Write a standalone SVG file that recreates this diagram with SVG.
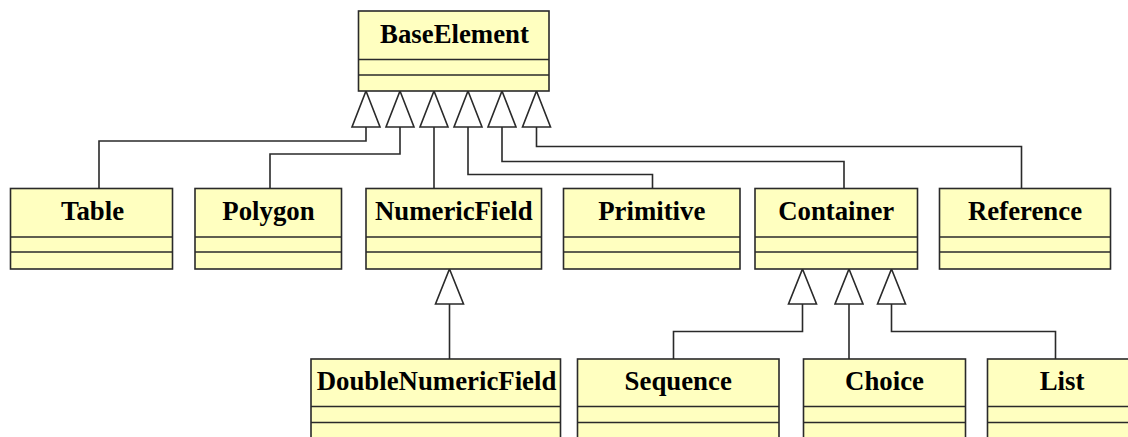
<svg xmlns="http://www.w3.org/2000/svg" width="1128" height="437" viewBox="0 0 1128 437">
<style>
.box{fill:#FFFFC0;stroke:#2a2a2a;stroke-width:1.6}
.div{stroke:#2a2a2a;stroke-width:1.6}
.t{font-family:"Liberation Serif","Times New Roman",serif;font-weight:bold;font-size:26.8px;fill:#000;text-anchor:middle}
.c{fill:none;stroke:#2a2a2a;stroke-width:1.6}
.h{fill:#fff;stroke:#2a2a2a;stroke-width:1.6;stroke-linejoin:miter}
</style>
<rect width="1128" height="437" fill="#fff"/>
<g id="connectors">
<polyline class="c" points="366,127 366,141 99,141 99,188.5"/>
<polyline class="c" points="400,127 400,154 270,154 270,188.5"/>
<polyline class="c" points="434,127 434,188.5"/>
<polyline class="c" points="468,127 468,174.5 652.5,174.5 652.5,188.5"/>
<polyline class="c" points="502,127 502,161.5 844,161.5 844,188.5"/>
<polyline class="c" points="536.5,127 536.5,146.5 1021.5,146.5 1021.5,188.5"/>
<polyline class="c" points="449.5,304 449.5,359"/>
<polyline class="c" points="802.5,304 802.5,331.5 673.5,331.5 673.5,359"/>
<polyline class="c" points="849,304 849,359"/>
<polyline class="c" points="891.5,304 891.5,331.5 1055.5,331.5 1055.5,359"/>
<polygon class="h" points="366,91 380,127 352,127"/>
<polygon class="h" points="400,91 414,127 386,127"/>
<polygon class="h" points="434,91 448,127 420,127"/>
<polygon class="h" points="468,91 482,127 454,127"/>
<polygon class="h" points="502,91 516,127 488,127"/>
<polygon class="h" points="536.5,91 550.5,127 522.5,127"/>
<polygon class="h" points="449.5,269 463.5,304 435.5,304"/>
<polygon class="h" points="802.5,269 816.5,304 788.5,304"/>
<polygon class="h" points="849,269 863,304 835,304"/>
<polygon class="h" points="891.5,269 905.5,304 877.5,304"/>
</g>
<g id="BaseElement">
<rect class="box" x="358.5" y="11" width="190.5" height="80"/>
<line class="div" x1="358.5" y1="59.5" x2="549" y2="59.5"/>
<line class="div" x1="358.5" y1="75" x2="549" y2="75"/>
<text class="t" x="454.5" y="43">BaseElement</text>
</g>
<g id="Table">
<rect class="box" x="10.5" y="188.5" width="162" height="80.5"/>
<line class="div" x1="10.5" y1="237" x2="172.5" y2="237"/>
<line class="div" x1="10.5" y1="252" x2="172.5" y2="252"/>
<text class="t" x="92.5" y="220">Table</text>
</g>
<g id="Polygon">
<rect class="box" x="195" y="188.5" width="146.5" height="80.5"/>
<line class="div" x1="195" y1="237" x2="341.5" y2="237"/>
<line class="div" x1="195" y1="252" x2="341.5" y2="252"/>
<text class="t" x="268.5" y="220">Polygon</text>
</g>
<g id="NumericField">
<rect class="box" x="366" y="188.5" width="175.5" height="80.5"/>
<line class="div" x1="366" y1="237" x2="541.5" y2="237"/>
<line class="div" x1="366" y1="252" x2="541.5" y2="252"/>
<text class="t" x="453.8" y="220">NumericField</text>
</g>
<g id="Primitive">
<rect class="box" x="563.5" y="188.5" width="176.5" height="80.5"/>
<line class="div" x1="563.5" y1="237" x2="740" y2="237"/>
<line class="div" x1="563.5" y1="252" x2="740" y2="252"/>
<text class="t" x="651.8" y="220">Primitive</text>
</g>
<g id="Container">
<rect class="box" x="755" y="188.5" width="162.5" height="80.5"/>
<line class="div" x1="755" y1="237" x2="917.5" y2="237"/>
<line class="div" x1="755" y1="252" x2="917.5" y2="252"/>
<text class="t" x="836.2" y="220">Container</text>
</g>
<g id="Reference">
<rect class="box" x="939.5" y="188.5" width="171" height="80.5"/>
<line class="div" x1="939.5" y1="237" x2="1110.5" y2="237"/>
<line class="div" x1="939.5" y1="252" x2="1110.5" y2="252"/>
<text class="t" x="1025" y="220">Reference</text>
</g>
<g id="DoubleNumericField">
<rect class="box" x="311" y="359" width="249.5" height="82"/>
<line class="div" x1="311" y1="406.5" x2="560.5" y2="406.5"/>
<line class="div" x1="311" y1="422.5" x2="560.5" y2="422.5"/>
<text class="t" x="436.5" y="390">DoubleNumericField</text>
</g>
<g id="Sequence">
<rect class="box" x="577.5" y="359" width="201.5" height="82"/>
<line class="div" x1="577.5" y1="406.5" x2="779" y2="406.5"/>
<line class="div" x1="577.5" y1="422.5" x2="779" y2="422.5"/>
<text class="t" x="678.2" y="390">Sequence</text>
</g>
<g id="Choice">
<rect class="box" x="803.5" y="359" width="162" height="82"/>
<line class="div" x1="803.5" y1="406.5" x2="965.5" y2="406.5"/>
<line class="div" x1="803.5" y1="422.5" x2="965.5" y2="422.5"/>
<text class="t" x="884.5" y="390">Choice</text>
</g>
<g id="List">
<rect class="box" x="987.5" y="359" width="150" height="82"/>
<line class="div" x1="987.5" y1="406.5" x2="1137.5" y2="406.5"/>
<line class="div" x1="987.5" y1="422.5" x2="1137.5" y2="422.5"/>
<text class="t" x="1062" y="390">List</text>
</g>
</svg>
